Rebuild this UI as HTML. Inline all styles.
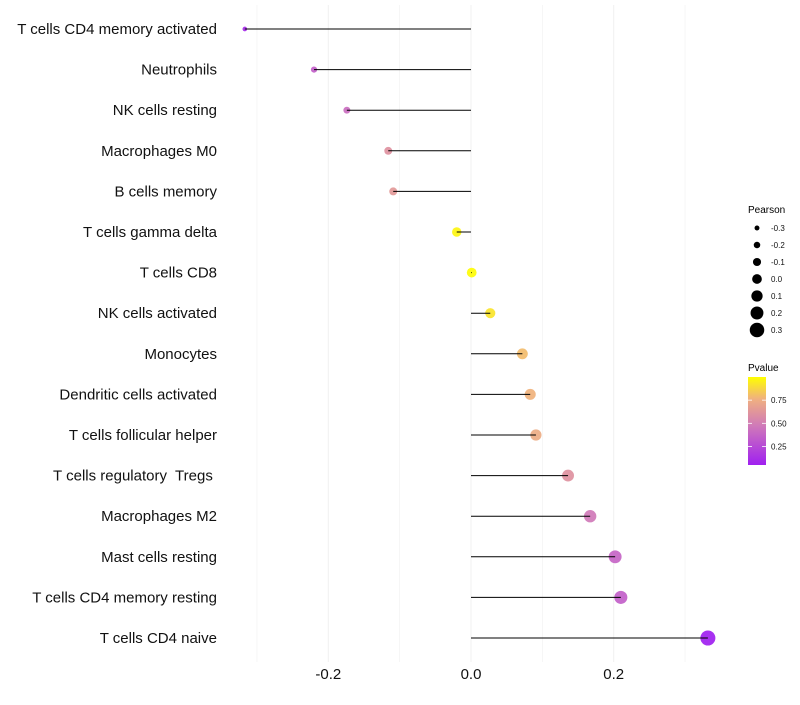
<!DOCTYPE html>
<html><head><meta charset="utf-8"><style>
body{margin:0;background:#fff;font-family:"Liberation Sans",Arial,sans-serif}
svg text{font-family:"Liberation Sans",Arial,sans-serif;white-space:pre}
</style></head><body>
<svg id="chart" width="800" height="700" xmlns="http://www.w3.org/2000/svg">
<g id="grid"></g>
<g id="marks"></g>
<g id="ylab"></g>
<g id="xlab"></g>
<g id="legend">
<text x="748" y="213" font-size="10">Pearson</text>
<text x="748" y="371" font-size="10">Pvalue</text>
<defs><linearGradient id="pg" x1="0" y1="1" x2="0" y2="0">
<stop offset="0" stop-color="#a020f0"/><stop offset="0.45" stop-color="#d07ab8"/><stop offset="0.75" stop-color="#f0b080"/><stop offset="1" stop-color="#ffff00"/></linearGradient></defs>
<rect x="748" y="377" width="18" height="88" fill="url(#pg)"/>
</g>
</svg>
<script>
const categories=["T cells CD4 memory activated","Neutrophils","NK cells resting","Macrophages M0","B cells memory","T cells gamma delta","T cells CD8","NK cells activated","Monocytes","Dendritic cells activated","T cells follicular helper","T cells regulatory  Tregs ","Macrophages M2","Mast cells resting","T cells CD4 memory resting","T cells CD4 naive"];
const pearson=[-0.317,-0.22,-0.174,-0.116,-0.109,-0.02,0.001,0.027,0.072,0.083,0.091,0.136,0.167,0.202,0.21,0.332];
const pvalue=[0.1,0.35,0.42,0.6,0.64,0.97,0.99,0.92,0.8,0.77,0.74,0.6,0.48,0.38,0.35,0.05];
const xTicks=[-0.2,0,0.2];
const xTickLabels=["-0.2","0.0","0.2"];
const gridVals=[-0.3,-0.2,-0.1,0,0.1,0.2,0.3];
const sizeLegend=[-0.3,-0.2,-0.1,0.0,0.1,0.2,0.3];
const sizeLegendLabels=["-0.3","-0.2","-0.1","0.0","0.1","0.2","0.3"];
const colorTicks=[0.25,0.5,0.75];
const colorTickLabels=["0.25","0.50","0.75"];

const NS="http://www.w3.org/2000/svg";
const X=v=>471+v*713.5;
const Y=i=>29+i*40.6;
const R=v=>2.3+(v+0.32)/0.65*5.2;
const stops=[[0,[160,32,240]],[0.45,[208,122,184]],[0.75,[240,176,128]],[1,[255,255,0]]];
function col(p){const t=Math.max(0,Math.min(1,(p-0.05)/0.95));
 let k=0; while(k<stops.length-2 && t>stops[k+1][0]) k++;
 const a=stops[k],b=stops[k+1];
 const u=(t-a[0])/(b[0]-a[0]);
 return "rgb("+a[1].map((c,j)=>Math.round(c+(b[1][j]-c)*u)).join(",")+")";}
function mk(tag,at,parent){const e=document.createElementNS(NS,tag);for(const k in at)e.setAttribute(k,at[k]);parent.appendChild(e);return e;}
const grid=document.getElementById('grid'),marks=document.getElementById('marks'),ylab=document.getElementById('ylab'),xlab=document.getElementById('xlab'),leg=document.getElementById('legend');
gridVals.forEach(v=>{const l=mk('line',{x1:X(v),x2:X(v),y1:5,y2:662,stroke:'#f0f0f0','stroke-width':xTicks.includes(v)?1:0.6},grid);

});
xTicks.forEach((v,i)=>{const t=mk('text',{x:X(v),y:679,'font-size':15,'text-anchor':'middle',fill:'#111'},xlab);t.textContent=xTickLabels[i];

});
categories.forEach((c,i)=>{
 const t=mk('text',{x:217,y:Y(i)+5,'font-size':15,'text-anchor':'end',fill:'#111'},ylab);t.textContent=c;
 
 
 const d=mk('circle',{cx:X(pearson[i]),cy:Y(i),r:R(pearson[i]),fill:col(pvalue[i]),'fill-opacity':0.92},marks);
 
 
 const l=mk('line',{x1:X(0),x2:X(pearson[i]),y1:Y(i),y2:Y(i),stroke:'#000','stroke-width':1},marks);
 
 
});
sizeLegend.forEach((v,i)=>{const y=228+i*17;
 const c=mk('circle',{cx:757,cy:y,r:R(v),fill:'#000'},leg);
 
 
 const t=mk('text',{x:771,y:y+3,'font-size':8,fill:'#111'},leg);t.textContent=sizeLegendLabels[i];
 
 });
colorTicks.forEach((p,i)=>{const y=465-(p-0.05)/0.95*88;
 const t=mk('text',{x:771,y:y+3,'font-size':8,fill:'#111'},leg);t.textContent=colorTickLabels[i];
 
 
 const l=mk('line',{x1:748,x2:752,y1:y,y2:y,stroke:'#fff','stroke-width':0.8},leg);
 
 
 const l2=mk('line',{x1:762,x2:766,y1:y,y2:y,stroke:'#fff','stroke-width':0.8},leg);
 
 });
</script>
</body></html>
